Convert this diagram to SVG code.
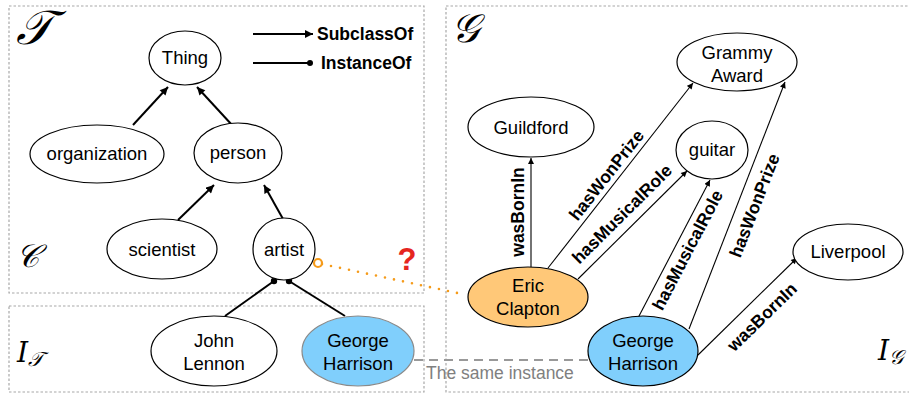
<svg xmlns="http://www.w3.org/2000/svg" width="909" height="394" viewBox="0 0 909 394">
<defs>
<style>
.box{fill:none;stroke:#a8a8a8;stroke-width:1.2;stroke-dasharray:2.5 2}
.n{fill:#fff;stroke:#000;stroke-width:1.2}
.t{font-family:"Liberation Sans",Arial,sans-serif;font-size:18.5px;fill:#000;text-anchor:middle}
.lb{font-family:"Liberation Sans",Arial,sans-serif;font-size:17.5px;font-weight:bold;fill:#000;text-anchor:middle}
.lg{font-family:"Liberation Sans",Arial,sans-serif;font-size:17.5px;font-weight:bold;fill:#000}
.m{font-family:"DejaVu Serif","Liberation Serif",serif;font-style:italic;fill:#000}
.eT{fill:none;stroke:#000;stroke-width:2}
.eG{fill:none;stroke:#000;stroke-width:1.1}
</style>
<marker id="aT" viewBox="0 0 10 10" refX="10" refY="5" markerUnits="userSpaceOnUse" markerWidth="9" markerHeight="8" orient="auto"><path d="M0,0 L10,5 L0,10 z" fill="#000"/></marker>
<marker id="aG" viewBox="0 0 10 10" refX="10" refY="5" markerUnits="userSpaceOnUse" markerWidth="7" markerHeight="6" orient="auto"><path d="M0,0 L10,5 L0,10 z" fill="#000"/></marker>
</defs>
<rect width="909" height="394" fill="#fff"/>
<g id="boxes">
<rect class="box" x="9" y="6" width="415" height="287"/>
<rect class="box" x="9" y="306" width="415" height="86"/>
<rect class="box" x="446" y="6" width="480" height="386"/>
</g>
<g id="symbols">
<text class="m" x="16" y="44" font-size="48">𝒯</text>
<text class="m" x="16" y="267" font-size="32">𝒞</text>
<text class="m" x="17" y="362" font-size="28">I<tspan font-size="20" dy="4">𝒯</tspan></text>
<text class="m" x="451" y="42" font-size="40">𝒢</text>
<text class="m" x="878" y="360" font-size="28">I<tspan font-size="20" dy="4">𝒢</tspan></text>
</g>
<g id="legend">
<line class="eT" x1="253" y1="34" x2="313" y2="34" marker-end="url(#aT)"/>
<text class="lg" x="317" y="40">SubclassOf</text>
<line class="eT" x1="253" y1="63" x2="310" y2="63"/>
<circle cx="310" cy="63" r="3" fill="#000"/>
<text class="lg" x="321" y="69">InstanceOf</text>
</g>
<g id="connectors">
<line class="eT" x1="133" y1="125" x2="168" y2="87" marker-end="url(#aT)"/>
<line class="eT" x1="232" y1="125" x2="197" y2="87" marker-end="url(#aT)"/>
<line class="eT" x1="178" y1="220" x2="214" y2="185" marker-end="url(#aT)"/>
<line class="eT" x1="283" y1="219" x2="264" y2="185" marker-end="url(#aT)"/>
<line class="eT" x1="225" y1="316" x2="274" y2="281"/>
<line class="eT" x1="345" y1="316" x2="289" y2="281"/>
<circle cx="274" cy="281" r="3.2" fill="#000"/>
<circle cx="289" cy="281" r="3.2" fill="#000"/>
<line x1="322" y1="264" x2="462" y2="294" stroke="#F59B1A" stroke-width="2.6" stroke-linecap="round" stroke-dasharray="0 9.2"/>
<circle cx="318" cy="263" r="4" fill="#fff" stroke="#F59B1A" stroke-width="2.2"/>
<line x1="414" y1="360" x2="590" y2="360" stroke="#999" stroke-width="2" stroke-dasharray="9 6"/>
<line class="eG" x1="531" y1="267" x2="531" y2="158" marker-end="url(#aG)"/>
<line class="eG" x1="548" y1="268" x2="693" y2="83" marker-end="url(#aG)"/>
<line class="eG" x1="578" y1="279" x2="687" y2="171" marker-end="url(#aG)"/>
<line class="eG" x1="638" y1="318" x2="710" y2="180" marker-end="url(#aG)"/>
<line class="eG" x1="689" y1="329" x2="785" y2="82" marker-end="url(#aG)"/>
<line class="eG" x1="698" y1="355" x2="797" y2="258" marker-end="url(#aG)"/>
</g>
<g id="labels">
<text class="lb" transform="translate(518,212) rotate(-90)" y="6">wasBornIn</text>
<text class="lb" transform="translate(606.5,175) rotate(-51.9)" y="6">hasWonPrize</text>
<text class="lb" transform="translate(622,214) rotate(-44.7)" y="6">hasMusicalRole</text>
<text class="lb" transform="translate(687.5,250) rotate(-62.4)" y="6">hasMusicalRole</text>
<text class="lb" transform="translate(754.5,205.5) rotate(-68.8)" y="6">hasWonPrize</text>
<text class="lb" transform="translate(762,317) rotate(-44.4)" y="6">wasBornIn</text>
<text x="407" y="270" font-family="Liberation Sans,Arial,sans-serif" font-size="31" font-weight="bold" fill="#E5261F" text-anchor="middle">?</text>
<text x="426" y="379" font-family="Liberation Sans,Arial,sans-serif" font-size="17.5" fill="#808080">The same instance</text>
</g>
<g id="n-thing"><ellipse class="n" cx="185" cy="58" rx="36" ry="27"/><text class="t" x="185" y="64">Thing</text></g>
<g id="n-organization"><ellipse class="n" cx="97" cy="154" rx="67" ry="29"/><text class="t" x="97" y="160">organization</text></g>
<g id="n-person"><ellipse class="n" cx="238" cy="153" rx="44" ry="30"/><text class="t" x="238" y="159">person</text></g>
<g id="n-scientist"><ellipse class="n" cx="162" cy="249" rx="55" ry="30"/><text class="t" x="162" y="256">scientist</text></g>
<g id="n-artist"><ellipse class="n" cx="284" cy="249" rx="31" ry="31"/><text class="t" x="284" y="256">artist</text></g>
<g id="n-john"><ellipse class="n" cx="214" cy="351" rx="63" ry="35"/><text class="t" x="214" y="347">John</text><text class="t" x="214" y="370">Lennon</text></g>
<g id="n-george-t"><ellipse cx="358" cy="351" rx="56" ry="35" fill="#80CFFC" stroke="#8a8a8a" stroke-width="1.2"/><text class="t" x="358" y="347">George</text><text class="t" x="358" y="370">Harrison</text></g>
<g id="n-grammy"><ellipse class="n" cx="737" cy="62" rx="60" ry="29"/><text class="t" x="737" y="59">Grammy</text><text class="t" x="737" y="82">Award</text></g>
<g id="n-guildford"><ellipse class="n" cx="531" cy="127" rx="63" ry="30"/><text class="t" x="531" y="134">Guildford</text></g>
<g id="n-guitar"><ellipse class="n" cx="712" cy="150" rx="36" ry="29"/><text class="t" x="712" y="156">guitar</text></g>
<g id="n-liverpool"><ellipse class="n" cx="848" cy="252" rx="55" ry="28"/><text class="t" x="848" y="258">Liverpool</text></g>
<g id="n-eric"><ellipse cx="528" cy="297" rx="60" ry="30" fill="#FFC878" stroke="#000" stroke-width="1.2"/><text class="t" x="528" y="292">Eric</text><text class="t" x="528" y="315">Clapton</text></g>
<g id="n-george-g"><ellipse cx="643" cy="351" rx="55" ry="35" fill="#80CFFC" stroke="#000" stroke-width="1.2"/><text class="t" x="643" y="347">George</text><text class="t" x="643" y="370">Harrison</text></g>
</svg>
